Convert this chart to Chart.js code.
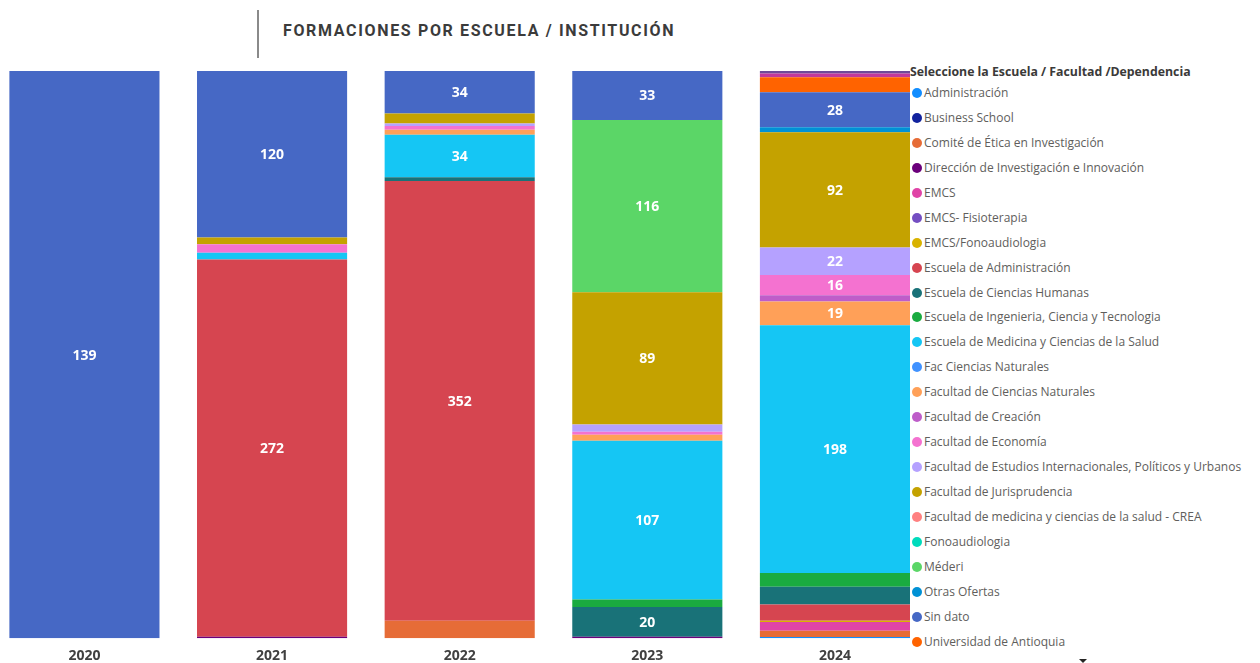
<!DOCTYPE html>
<html lang="es">
<head>
<meta charset="utf-8">
<title>Formaciones por escuela / institución</title>
<script src="https://cdn.jsdelivr.net/npm/chart.js@4.4.1/dist/chart.umd.min.js"></script>
<style>
    html, body {
        margin: 0;
        padding: 0;
        background: #ffffff;
        width: 1260px;
        height: 663px;
        overflow: hidden;
        font-family: "Open Sans", sans-serif;
    }
    .title-bar {
        position: absolute;
        left: 257px;
        top: 10px;
        height: 48px;
        border-left: 2px solid #8a8a8a;
    }
    .title {
        position: absolute;
        left: 283px;
        top: 21px;
        font-family: Roboto, sans-serif;
        font-weight: bold;
        font-size: 16px;
        letter-spacing: 1.65px;
        color: #3b3b3b;
        white-space: nowrap;
    }
    #chart-box {
        position: absolute;
        left: 0;
        top: 71px;
        width: 910px;
        height: 602px;
    }
    #legend {
        position: absolute;
        left: 910px;
        top: 63px;
        width: 350px;
    }
    #legend .legend-title {
        font-size: 12.3px;
        font-weight: bold;
        color: #3b3a39;
        height: 18px;
        line-height: 18px;
        white-space: nowrap;
    }
    #legend ul {
        list-style: none;
        margin: 0;
        padding: 0;
    }
    #legend li {
        height: 24.95px;
        line-height: 24.95px;
        font-size: 12px;
        color: #605e5c;
        white-space: nowrap;
    }
    #legend .dot {
        display: inline-block;
        width: 10px;
        height: 10px;
        border-radius: 50%;
        margin-left: 2px;
        margin-right: 2px;
        vertical-align: -1px;
    }
    .scroll-arrow {
        position: absolute;
        left: 1079px;
        top: 659px;
        width: 0;
        height: 0;
        border-left: 4px solid transparent;
        border-right: 4px solid transparent;
        border-top: 4px solid #252423;
    }
</style>
</head>
<body>
<div class="title-bar"></div>
<div class="title">FORMACIONES POR ESCUELA / INSTITUCIÓN</div>
<div id="chart-box"><canvas id="myChart" width="910" height="602"></canvas></div>
<div id="legend"></div>
<div class="scroll-arrow"></div>

<script>
"use strict";

var years = ["2020", "2021", "2022", "2023", "2024"];

// one array per school, values per year (2020..2024)
var administracion        = [0, 0, 0, 0, 1];
var businessSchool        = [0, 0, 0, 0, 0];
var comiteEtica           = [0, 0, 14, 0, 5];
var direccionInvestig     = [0, 1, 0, 1, 0];
var emcs                  = [0, 0, 0, 0, 7];
var emcsFisioterapia      = [0, 0, 0, 0, 0];
var emcsFonoaudiologia    = [0, 0, 0, 0, 1];
var escAdministracion     = [0, 272, 352, 0, 13];
var escCienciasHumanas    = [0, 0, 3, 20, 14];
var escIngenieria         = [0, 0, 0, 5, 11];
var escMedicina           = [0, 5, 34, 107, 198];
var facCienciasNat        = [0, 0, 0, 0, 0];
var facultadCienciasNat   = [0, 0, 4, 4, 19];
var facCreacion           = [0, 0, 0, 0, 5];
var facEconomia           = [0, 6, 3, 2, 16];
var facEstudiosInt        = [0, 0, 2, 5, 22];
var facJurisprudencia     = [0, 5, 8, 89, 92];
var facMedicinaCrea       = [0, 0, 0, 0, 0];
var fonoaudiologia        = [0, 0, 0, 0, 0];
var mederi                = [0, 0, 0, 116, 0];
var otrasOfertas          = [0, 0, 0, 0, 4];
var sinDato               = [139, 120, 34, 33, 28];
var univAntioquia         = [0, 0, 0, 0, 12];
// two more entries further down the scrolled legend (not visible there)
var oculto1               = [0, 0, 0, 0, 3];
var oculto2               = [0, 0, 0, 0, 2];

var series = [
    ["Administración", administracion, "#118DFF"],
    ["Business School", businessSchool, "#12239E"],
    ["Comité de Ética en Investigación", comiteEtica, "#E66C37"],
    ["Dirección de Investigación e Innovación", direccionInvestig, "#6B007B"],
    ["EMCS", emcs, "#E044A7"],
    ["EMCS- Fisioterapia", emcsFisioterapia, "#744EC2"],
    ["EMCS/Fonoaudiologia", emcsFonoaudiologia, "#D9B300"],
    ["Escuela de Administración", escAdministracion, "#D64550"],
    ["Escuela de Ciencias Humanas", escCienciasHumanas, "#197278"],
    ["Escuela de Ingenieria, Ciencia y Tecnologia", escIngenieria, "#1AAB40"],
    ["Escuela de Medicina y Ciencias de la Salud", escMedicina, "#15C6F4"],
    ["Fac Ciencias Naturales", facCienciasNat, "#4092FF"],
    ["Facultad de Ciencias Naturales", facultadCienciasNat, "#FFA058"],
    ["Facultad de Creación", facCreacion, "#BE5DC9"],
    ["Facultad de Economía", facEconomia, "#F472D0"],
    ["Facultad de Estudios Internacionales, Políticos y Urbanos", facEstudiosInt, "#B5A1FF"],
    ["Facultad de Jurisprudencia", facJurisprudencia, "#C4A200"],
    ["Facultad de medicina y ciencias de la salud - CREA", facMedicinaCrea, "#FF8080"],
    ["Fonoaudiologia", fonoaudiologia, "#00DBBC"],
    ["Méderi", mederi, "#5BD667"],
    ["Otras Ofertas", otrasOfertas, "#0091D5"],
    ["Sin dato", sinDato, "#4668C5"],
    ["Universidad de Antioquia", univAntioquia, "#FF6300"],
    ["", oculto1, "#C2399B"],
    ["", oculto2, "#6E4B9A"]
];
var legendCount = 23;

(function () {
    // totals per year -> bars are 100% stacked
    var totals = years.map(function (y, i) {
        return series.reduce(function (sum, s) { return sum + s[1][i]; }, 0);
    });

    var datasets = series.map(function (s) {
        return {
            label: s[0],
            raw: s[1],
            backgroundColor: s[2],
            borderWidth: 0,
            data: s[1].map(function (v, i) {
                return { x: i, y: v / totals[i] * 100 };
            }),
            categoryPercentage: 0.8,
            barPercentage: 1
        };
    });

    var segmentLabels = {
        id: "segmentLabels",
        afterDatasetsDraw: function (chart) {
            var ctx = chart.ctx;
            ctx.save();
            ctx.fillStyle = "#ffffff";
            ctx.font = "bold 14px 'Open Sans'";
            ctx.textAlign = "center";
            ctx.textBaseline = "middle";
            chart.data.datasets.forEach(function (ds, di) {
                var meta = chart.getDatasetMeta(di);
                meta.data.forEach(function (bar, i) {
                    var p = bar.getProps(["x", "y", "base"], true);
                    if (Math.abs(p.base - p.y) >= 19) {
                        ctx.fillText(String(ds.raw[i]), p.x, (p.y + p.base) / 2 + 1);
                    }
                });
            });
            ctx.restore();
        }
    };

    var ctx = document.getElementById("myChart").getContext("2d");
    var chart = new Chart(ctx, {
        type: "bar",
        data: { datasets: datasets },
        options: {
            responsive: false,
            animation: false,
            layout: { padding: 0 },
            plugins: {
                legend: { display: false },
                tooltip: { enabled: false }
            },
            scales: {
                x: {
                    type: "linear",
                    stacked: true,
                    offset: false,
                    min: -0.45,
                    max: 4.4,
                    grid: { display: false, drawTicks: false, offset: false },
                    border: { display: false },
                    afterBuildTicks: function (scale) {
                        scale.ticks = years.map(function (y, i) { return { value: i }; });
                    },
                    ticks: {
                        padding: 9,
                        color: "#404040",
                        font: { family: "'Open Sans'", size: 14, weight: "bold" },
                        callback: function (v) { return years[v]; }
                    }
                },
                y: {
                    stacked: true,
                    min: 0,
                    max: 100,
                    display: false
                }
            }
        },
        plugins: [segmentLabels]
    });

    // html legend from the chart's own datasets
    var legend = document.getElementById("legend");
    var title = document.createElement("div");
    title.className = "legend-title";
    title.textContent = "Seleccione la Escuela / Facultad /Dependencia";
    legend.appendChild(title);
    var ul = document.createElement("ul");
    chart.data.datasets.slice(0, legendCount).forEach(function (ds) {
        var li = document.createElement("li");
        var dot = document.createElement("span");
        dot.className = "dot";
        dot.style.background = ds.backgroundColor;
        li.appendChild(dot);
        li.appendChild(document.createTextNode(ds.label));
        ul.appendChild(li);
    });
    legend.appendChild(ul);
})();
</script>
</body>
</html>
